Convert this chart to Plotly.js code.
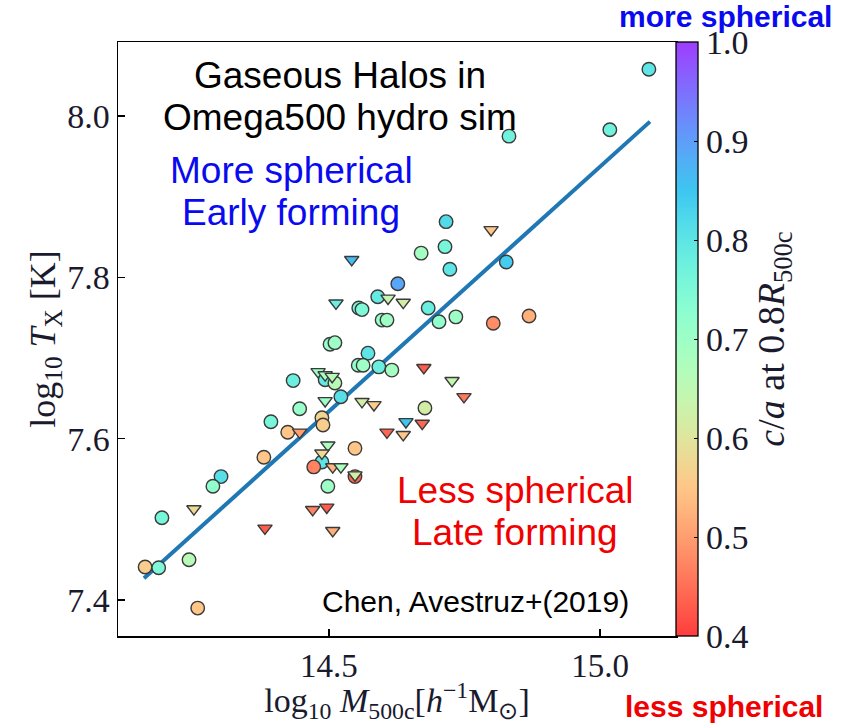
<!DOCTYPE html>
<html><head><meta charset="utf-8">
<script src="https://cdn.plot.ly/plotly-3.0.1.min.js"></script>
<style>html,body{margin:0;padding:0;background:#fff}#chart{width:850px;height:724px}</style>
</head><body><div id="chart"></div>
<script>
// ---- data ----
const circleMass = [15.090,15.018,14.832,14.716,14.714,14.670,14.827,14.723,14.627,14.590,14.555,14.561,14.683,14.598,14.607,14.703,14.734,14.803,14.869,14.502,14.511,14.572,14.554,14.563,14.592,14.616,14.493,14.511,14.434,14.522,14.446,14.677,14.393,14.487,14.489,14.424,14.548,14.380,14.487,14.472,14.548,14.301,14.286,14.498,14.192,14.242,14.161,14.186,14.258];
const circleTemp = [8.058,7.983,7.975,7.869,7.838,7.830,7.819,7.810,7.792,7.776,7.762,7.760,7.762,7.747,7.747,7.745,7.751,7.743,7.752,7.717,7.719,7.706,7.691,7.691,7.689,7.685,7.673,7.669,7.672,7.652,7.637,7.638,7.621,7.626,7.617,7.608,7.588,7.577,7.571,7.565,7.553,7.553,7.541,7.541,7.502,7.450,7.441,7.440,7.390];
const circleShape = [0.80,0.77,0.77,0.82,0.76,0.69,0.84,0.80,0.89,0.79,0.76,0.75,0.78,0.71,0.70,0.72,0.70,0.48,0.52,0.71,0.70,0.80,0.72,0.70,0.78,0.69,0.79,0.66,0.78,0.81,0.71,0.62,0.76,0.57,0.56,0.55,0.55,0.55,0.80,0.47,0.44,0.81,0.72,0.70,0.76,0.66,0.56,0.75,0.55];

const triMass = [14.799,14.542,14.609,14.637,14.513,14.675,14.480,14.493,14.506,14.727,14.749,14.493,14.561,14.583,14.642,14.672,14.607,14.637,14.446,14.498,14.487,14.507,14.522,14.548,14.251,14.382,14.470,14.496,14.507];
const triTemp = [7.859,7.822,7.774,7.769,7.768,7.688,7.683,7.679,7.677,7.672,7.652,7.647,7.646,7.642,7.621,7.619,7.608,7.605,7.608,7.592,7.582,7.565,7.565,7.555,7.513,7.489,7.512,7.515,7.486];
const triShape = [0.55,0.86,0.64,0.62,0.78,0.43,0.70,0.68,0.66,0.64,0.46,0.70,0.62,0.56,0.85,0.44,0.44,0.55,0.50,0.68,0.58,0.53,0.68,0.62,0.58,0.43,0.47,0.43,0.52];

const fitMass = [14.159, 15.092];
const fitTemp = [7.427, 7.993];

const xTickVals = [14.5, 15.0];
const xTickText = ['14.5', '15.0'];
const yTickVals = [7.4, 7.6, 7.8, 8.0];
const yTickText = ['7.4', '7.6', '7.8', '8.0'];
const cbTickVals = [0.4, 0.5, 0.6, 0.7, 0.8, 0.9, 1.0];
const cbTickText = ['0.4', '0.5', '0.6', '0.7', '0.8', '0.9', '1.0'];

// ---- colour map: matplotlib "rainbow" reversed, lightened by alpha on white ----
function rainbow(t) {
  const cl = v => Math.max(0, Math.min(1, v));
  return [cl(Math.abs(2 * t - 0.5)), cl(Math.sin(Math.PI * t)), cl(Math.cos(Math.PI * t / 2))];
}
const alpha = 0.76;
const colorscale = [];
for (let i = 0; i <= 20; i++) {
  const p = i / 20;
  const c = rainbow(1 - p).map(v => Math.round(255 * (alpha * v + (1 - alpha))));
  colorscale.push([p, `rgb(${c[0]},${c[1]},${c[2]})`]);
}

const serif = 'Liberation Serif, Times New Roman, serif';
const sans = 'Liberation Sans, Arial, sans-serif';

// layout geometry
const W = 850, H = 724, L = 118, R = 0, T = 42, B = 88;
const plotRight = 676;
const pw = W - L - R, ph = H - T - B;
const px = x => (x - L) / pw;
const py = y => (H - B - y) / ph;

const traces = [
  { x: fitMass, y: fitTemp, mode: 'lines', type: 'scatter', line: { color: '#1f77b4', width: 4 }, hoverinfo: 'skip', showlegend: false },
  { x: circleMass, y: circleTemp, mode: 'markers', type: 'scatter', showlegend: false,
    marker: { symbol: 'circle', size: 13.5, color: circleShape, coloraxis: 'coloraxis', line: { color: '#3a3a3a', width: 1.4 } } },
  { x: triMass, y: triTemp, mode: 'markers', type: 'scatter', showlegend: false,
    marker: { symbol: 'triangle-down', size: 12.5, color: triShape, coloraxis: 'coloraxis', line: { color: '#3a3a3a', width: 1.4 } } }
];

const ann = (text, x, y, color, size, bold, xanchor) => ({
  text: bold ? '<b>' + text + '</b>' : text, xref: 'paper', yref: 'paper', x: px(x), y: py(y),
  xanchor: xanchor || 'center', yanchor: 'middle', showarrow: false,
  font: { family: sans, size: size, color: color }
});

const axisFont = { family: serif, size: 34, color: '#1a1a2e' };

const layout = {
  width: W, height: H,
  margin: { l: L, r: R, t: T, b: B },
  paper_bgcolor: '#fff', plot_bgcolor: '#fff',
  xaxis: {
    domain: [0, (plotRight - L) / pw], range: [14.111, 15.140],
    tickvals: xTickVals, ticktext: xTickText, ticks: 'inside', ticklen: 7, tickwidth: 1.3, tickcolor: '#000',
    showline: true, mirror: true, linecolor: '#000', linewidth: 1.5, showgrid: false, zeroline: false,
    tickfont: { family: serif, size: 33, color: '#1a1a2e' },
    title: { text: 'log<sub>10</sub> <i>M</i><sub>500c</sub>[<i>h</i><sup>−1</sup>M<sub>⊙</sub>]', standoff: 5,
             font: { family: serif, size: 34, color: '#1a1a2e' } }
  },
  yaxis: {
    range: [7.3554, 8.0917],
    tickvals: yTickVals, ticktext: yTickText, ticks: 'inside', ticklen: 7, tickwidth: 1.3, tickcolor: '#000',
    showline: true, mirror: true, linecolor: '#000', linewidth: 1.5, showgrid: false, zeroline: false,
    tickfont: axisFont,
    title: { text: 'log<sub>10</sub> <i>T</i><sub>X</sub> [K]', standoff: 0,
             font: { family: serif, size: 36, color: '#1a1a2e' } }
  },
  coloraxis: {
    cmin: 0.4, cmax: 1.0, colorscale: colorscale,
    colorbar: {
      x: (plotRight - L) / pw, xanchor: 'left', xref: 'paper', xpad: 0, ypad: 0,
      y: 0.5, yanchor: 'middle', len: 1, lenmode: 'fraction',
      thickness: 22, thicknessmode: 'pixels', outlinewidth: 1.3, outlinecolor: '#000',
      ticks: 'inside', ticklen: 4, tickcolor: '#000', tickvals: cbTickVals, ticktext: cbTickText,
      tickfont: axisFont,
      title: { text: '<i>c</i>/<i>a</i> at 0.8<i>R</i><sub>500c</sub>', side: 'right',
               font: { family: serif, size: 38, color: '#1a1a2e' } }
    }
  },
  annotations: [
    ann('Gaseous Halos in', 340, 76, '#000', 37),
    ann('Omega500 hydro sim', 340, 117, '#000', 37),
    ann('More spherical', 291, 170, '#0a0af0', 37),
    ann('Early forming', 291, 213, '#0a0af0', 37),
    ann('Less spherical', 515, 490, '#f00000', 37),
    ann('Late forming', 515, 532, '#f00000', 37),
    ann('Chen, Avestruz+(2019)', 475, 601, '#000', 30),
    ann('more spherical', 725, 17, '#0a0af0', 30, true),
    ann('less spherical', 724, 706, '#f00000', 30, true)
  ]
};

Plotly.newPlot('chart', traces, layout, { displayModeBar: false, staticPlot: true });
</script>
</body></html>
